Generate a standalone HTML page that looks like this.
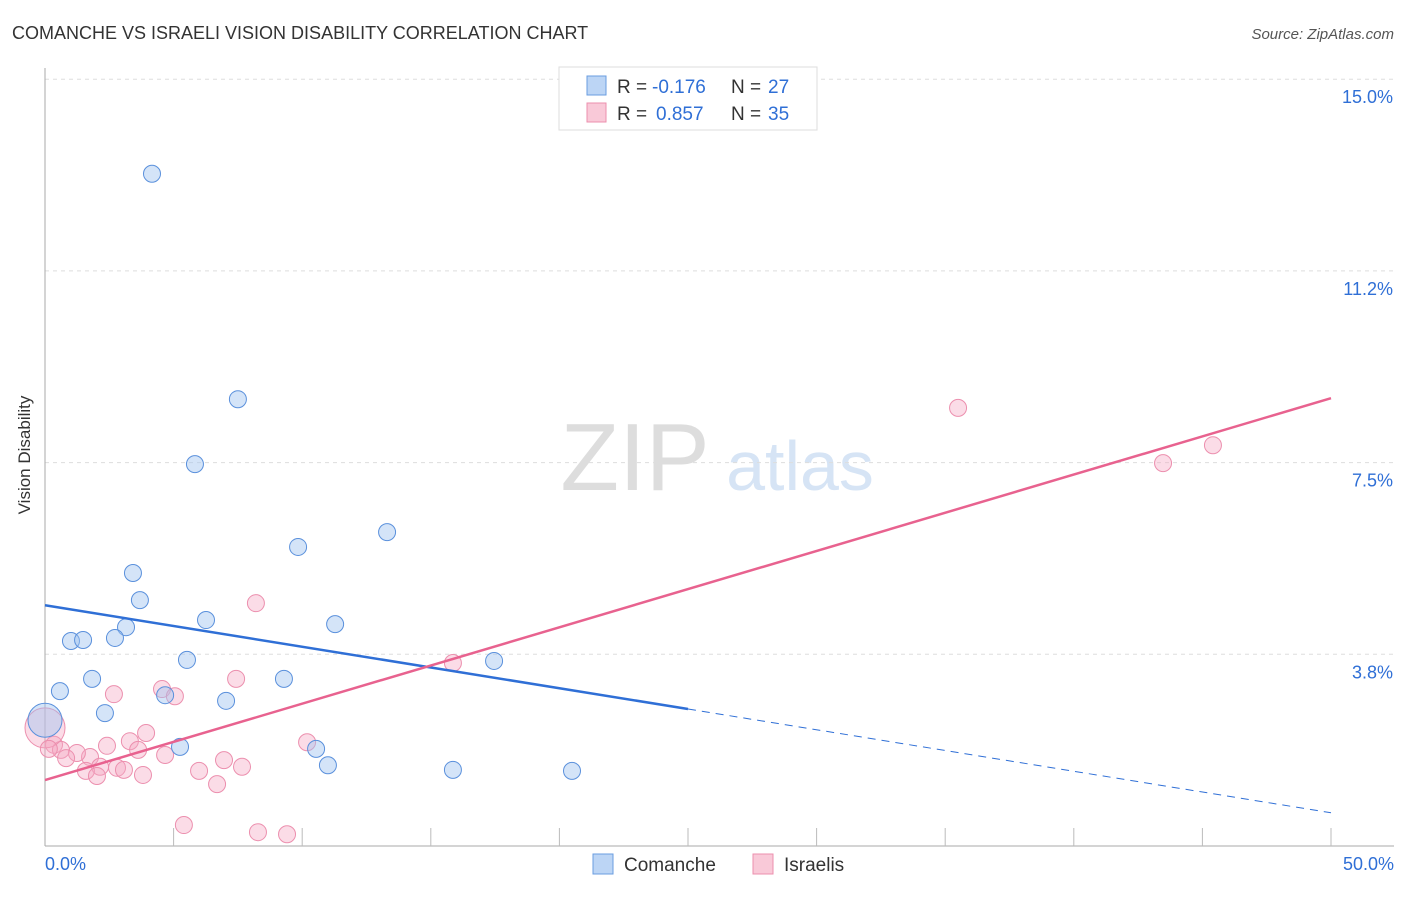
<!DOCTYPE html>
<html><head><meta charset="utf-8"><style>
body{margin:0;background:#fff;font-family:"Liberation Sans",sans-serif}
svg text{font-family:"Liberation Sans",sans-serif}
</style></head><body>
<svg id="c" width="1406" height="892">
<text x="12" y="39" font-size="18" fill="#333">COMANCHE VS ISRAELI VISION DISABILITY CORRELATION CHART</text>
<text x="1394" y="39" font-size="15" fill="#555" text-anchor="end" font-style="italic">Source: ZipAtlas.com</text>
<text x="30" y="455" font-size="17" fill="#333" transform="rotate(-90 30 455)" text-anchor="middle">Vision Disability</text>
<g><text x="635" y="490" font-size="96" fill="#ddd" font-family="Liberation Serif" text-anchor="middle">ZIP</text><text x="800" y="490" font-size="70" fill="#d6e4f5" text-anchor="middle">atlas</text></g>
<g id="grid"></g><g id="axes"></g><g id="pts"></g><g id="lines"></g>
<g>
<rect x="559" y="67" width="258" height="63" fill="#fff" stroke="#ddd"/>
<rect x="587" y="76" width="19" height="19" fill="#bcd5f5" stroke="#6a9de0"/>
<rect x="587" y="103" width="19" height="19" fill="#f9c9d8" stroke="#ec8fae"/>
<text y="93" font-size="19" fill="#333"><tspan x="617">R =</tspan><tspan x="652" fill="#2f6fd6">-0.176</tspan><tspan x="731">N =</tspan><tspan x="768" fill="#2f6fd6">27</tspan></text>
<text y="120" font-size="19" fill="#333"><tspan x="617">R =</tspan><tspan x="656" fill="#2f6fd6">0.857</tspan><tspan x="731">N =</tspan><tspan x="768" fill="#2f6fd6">35</tspan></text>
</g>
<g>
<rect x="593" y="854" width="20" height="20" fill="#bcd5f5" stroke="#6a9de0"/>
<text x="624" y="871" font-size="19" fill="#333">Comanche</text>
<rect x="753" y="854" width="20" height="20" fill="#f9c9d8" stroke="#ec8fae"/>
<text x="784" y="871" font-size="19" fill="#333">Israelis</text>
</g>
</svg>
<script>
const yTickLabels=["3.8%","7.5%","11.2%","15.0%"];
const yTickVals=[3.75,7.5,11.25,15.0];
const xTickLabels=["0.0%","50.0%"];
const comancheX=[4.16,7.50,5.83,13.30,9.84,3.42,3.69,6.26,11.28,3.15,2.72,1.01,1.48,5.52,17.46,1.83,9.29,0.58,4.67,7.04,2.33,0.0,5.25,10.54,11.00,15.86,20.49];
const comancheY=[13.15,8.74,7.47,6.14,5.85,5.34,4.81,4.42,4.34,4.28,4.07,4.01,4.03,3.64,3.62,3.27,3.27,3.03,2.95,2.84,2.60,2.46,1.94,1.90,1.58,1.49,1.47];
const israeliX=[35.50,45.41,43.47,8.20,15.86,7.43,4.55,2.68,5.05,3.93,0.35,10.19,2.41,3.30,0.62,3.62,1.75,6.96,4.67,1.24,0.82,2.14,2.80,7.66,5.99,1.59,3.07,3.81,2.02,6.69,5.40,8.28,9.41,0.0,0.15];
const israeliY=[8.57,7.84,7.49,4.75,3.58,3.27,3.07,2.97,2.93,2.21,1.98,2.03,1.96,2.05,1.88,1.88,1.74,1.68,1.78,1.82,1.72,1.55,1.53,1.55,1.47,1.47,1.49,1.39,1.37,1.21,0.41,0.27,0.23,2.31,1.9];
const comancheTrend=[4.71,0.65];
const israeliTrend=[1.29,8.76];
const sx=v=>45+v*25.72, sy=v=>846-v*51.12;
const NS="http://www.w3.org/2000/svg";
function mk(t,a,p){const e=document.createElementNS(NS,t);for(const k in a)e.setAttribute(k,a[k]);p.appendChild(e);return e;}
const grid=document.getElementById('grid'),axes=document.getElementById('axes'),pts=document.getElementById('pts'),lines=document.getElementById('lines');
yTickVals.forEach((v,i)=>{
 const l=mk('line',{x1:45,x2:1394,y1:sy(v),y2:sy(v),stroke:'#ddd','stroke-dasharray':'4,4'},grid);
 
 
 const t=mk('text',{x:1393,y:sy(v)+24,'font-size':18,fill:'#2f6fd6','text-anchor':'end'},axes);t.textContent=yTickLabels[i];
 
 
});
mk('line',{x1:45,x2:45,y1:68,y2:846,stroke:'#aaa'},axes);
mk('line',{x1:45,x2:1394,y1:846,y2:846,stroke:'#aaa'},axes);
for(let i=1;i<=10;i++){const x=sx(i*5);mk('line',{x1:x,x2:x,y1:828,y2:846,stroke:'#bbb'},axes);}
[[0,'start',45],[50,'end',1394]].forEach((d,i)=>{const t=mk('text',{x:d[2],y:870,'font-size':18,fill:'#2f6fd6','text-anchor':d[1]},axes);t.textContent=xTickLabels[i];
 
 });
israeliX.forEach((x,i)=>{const r=(i===33)?20:8.5;const c=mk('circle',{cx:sx(x),cy:sy(israeliY[i]),r:r,fill:'rgba(246,168,194,0.4)',stroke:'#ec8fae','stroke-width':1},pts);
 
 });
comancheX.forEach((x,i)=>{const r=(i===21)?17:8.5;const c=mk('circle',{cx:sx(x),cy:sy(comancheY[i]),r:r,fill:'rgba(160,195,240,0.45)',stroke:'#5a90dc','stroke-width':1},pts);
 
 });
const cy=x=>comancheTrend[0]+(comancheTrend[1]-comancheTrend[0])*x/50;
let l1=mk('line',{x1:sx(0),y1:sy(cy(0)),x2:sx(25),y2:sy(cy(25)),stroke:'#2f6fd6','stroke-width':2.5},lines);


let l2=mk('line',{x1:sx(25),y1:sy(cy(25)),x2:sx(50),y2:sy(cy(50)),stroke:'#2f6fd6','stroke-width':1,'stroke-dasharray':'8,6'},lines);


let l3=mk('line',{x1:sx(0),y1:sy(israeliTrend[0]),x2:sx(50),y2:sy(israeliTrend[1]),stroke:'#e8628f','stroke-width':2.5},lines);


</script>
</body></html>
